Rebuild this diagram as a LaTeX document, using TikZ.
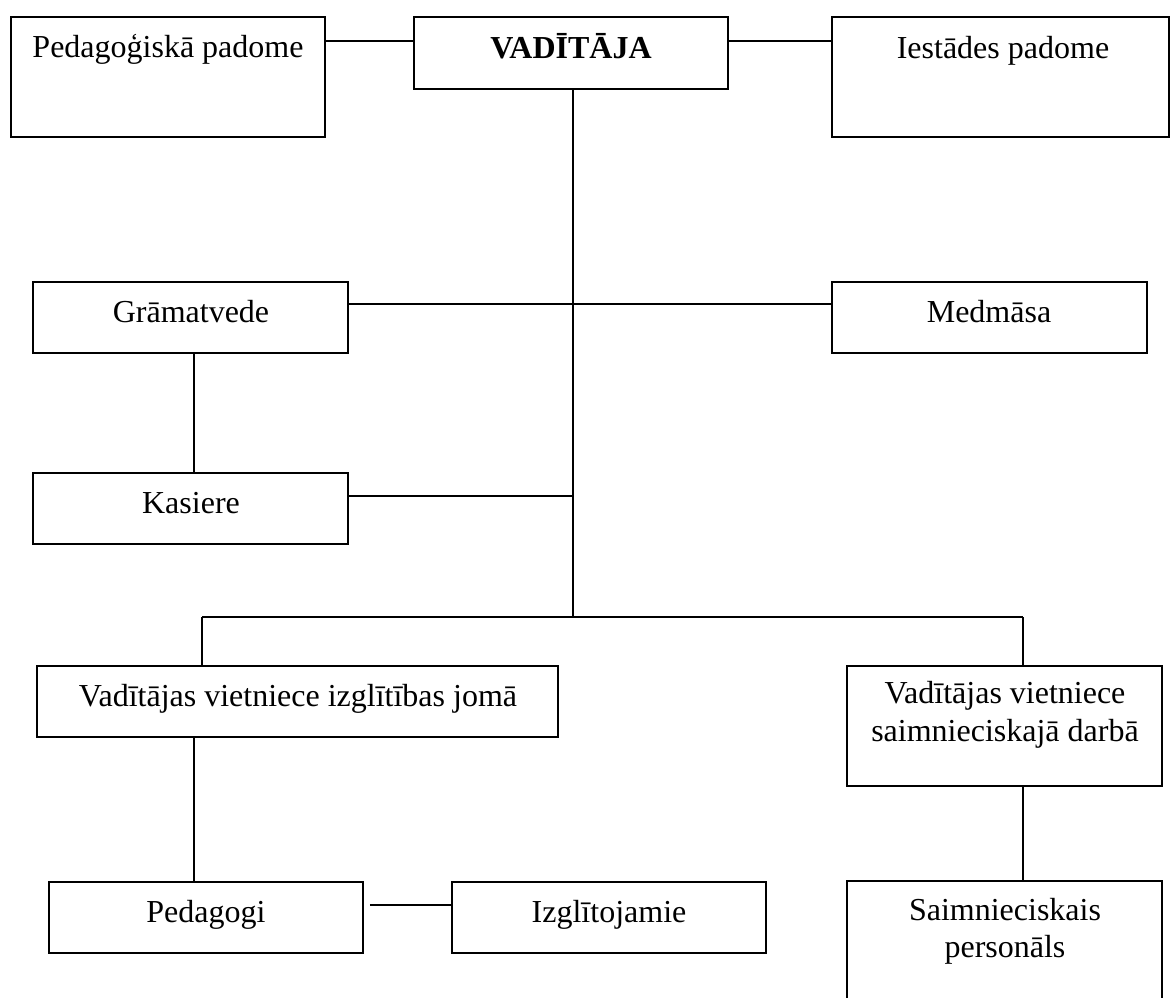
\documentclass[tikz,border=0pt]{standalone}
\usepackage{fontspec}
\setmainfont{Liberation Serif}
\usetikzlibrary{fit,calc}
\begin{document}
\begin{tikzpicture}[x=0.75pt,y=-0.75pt,
  box/.style={draw, line width=1.2pt, inner sep=0pt, rectangle},
  lbl/.style={anchor=base, inner sep=0pt, font=\fontsize{24}{28}\selectfont},
  conn/.style={line width=1.2pt},
  trunk/.style={line width=1.8pt}]
\clip (0,0) rectangle (1171,997);
% boxes
\node[box, fit={(11,17) (325,137)}] (pp) {};
\node[box, fit={(414,17) (728,89)}] (vad) {};
\node[box, fit={(832,17) (1169,137)}] (ies) {};
\node[box, fit={(33,282) (348,353)}] (gram) {};
\node[box, fit={(832,282) (1147,353)}] (med) {};
\node[box, fit={(33,473) (348,544)}] (kas) {};
\node[box, fit={(37,666) (558,737)}] (vl) {};
\node[box, fit={(847,666) (1162,786)}] (vr) {};
\node[box, fit={(49,882) (363,953)}] (ped) {};
\node[box, fit={(452,882) (766,953)}] (izg) {};
\node[box, fit={(847,881) (1162,1010)}] (sp) {};
% texts
\node[lbl] (tpp) at (168,57) {Pedagoģiskā padome};
\node[lbl, font=\fontsize{24}{28}\selectfont\bfseries] (tvad) at (571,58) {VADĪTĀJA};
\node[lbl] (ties) at (1003,58) {Iestādes padome};
\node[lbl] (tgram) at (191,322) {Grāmatvede};
\node[lbl] (tmed) at (989,322) {Medmāsa};
\node[lbl] (tkas) at (191,513) {Kasiere};
\node[lbl] (tvl) at (298,706) {Vadītājas vietniece izglītības jomā};
\node[lbl] (tvra) at (1005,703) {Vadītājas vietniece};
\node[lbl] (tvrb) at (1005,741) {saimnieciskajā darbā};
\node[lbl] (tped) at (206,922) {Pedagogi};
\node[lbl] (tizg) at (609,922) {Izglītojamie};
\node[lbl] (tspa) at (1005,920) {Saimnieciskais};
\node[lbl] (tspb) at (1005,957) {personāls};
% helper coordinates
\coordinate (trk) at (573,0);
\coordinate (bl) at (202,617);
\coordinate (br) at (1023,617);
\coordinate (pv) at (194,0);
% connectors
\draw[conn] ($(pp.north east)+(0,25)$) -- ($(vad.north west)+(0,25)$);
\draw[conn] ($(vad.north east)+(0,25)$) -- ($(ies.north west)+(0,25)$);
\draw[trunk] (vad.south -| trk) -- (bl -| trk);
\draw[conn] ($(gram.north east)+(0,23)$) -- ($(med.north west)+(0,23)$);
\draw[conn] (gram.south -| pv) -- (kas.north -| pv);
\draw[conn] ($(kas.north east)+(0,24)$) coordinate (k1) -- (k1 -| trk);
\draw[conn] (bl) -- (br);
\draw[trunk] (bl) -- (bl |- vl.north);
\draw[conn] (br) -- (br |- vr.north);
\draw[conn] (vl.south -| pv) -- (ped.north -| pv);
\draw[conn] ($(ped.north east)+(6,24)$) -- ($(izg.north west)+(0,24)$);
\draw[conn] (vr.south -| br) -- (sp.north -| br);
\end{tikzpicture}
\end{document}
